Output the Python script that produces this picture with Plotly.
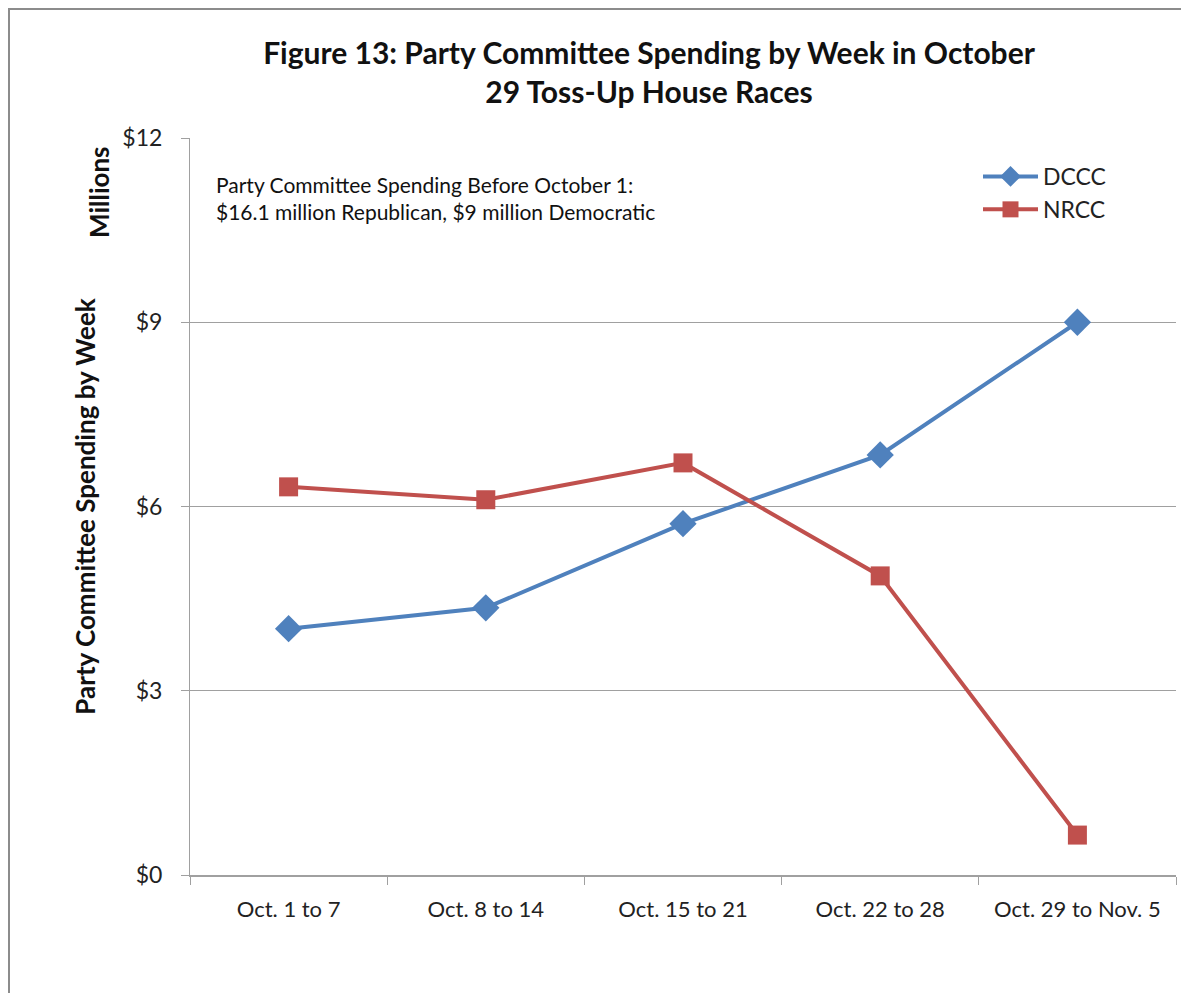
import plotly.graph_objects as go

weeks = ["Oct. 1 to 7", "Oct. 8 to 14", "Oct. 15 to 21", "Oct. 22 to 28", "Oct. 29 to Nov. 5"]
dccc = [4.01, 4.35, 5.72, 6.84, 9.0]
nrcc = [6.32, 6.11, 6.71, 4.87, 0.65]
y_ticks = [0, 3, 6, 9, 12]
y_tick_labels = ["$0", "$3", "$6", "$9", "$12"]

FONT = "Lato, 'Open Sans', sans-serif"

fig = go.Figure()
fig.add_trace(go.Scatter(
    x=weeks, y=dccc, name="DCCC", mode="lines+markers",
    line=dict(color="#4F81BD", width=4),
    marker=dict(symbol="diamond", size=21, color="#4F81BD"),
))
fig.add_trace(go.Scatter(
    x=weeks, y=nrcc, name="NRCC", mode="lines+markers",
    line=dict(color="#C0504D", width=4),
    marker=dict(symbol="square", size=19, color="#C0504D"),
))

# page is offset by 8px (body margin); figure coordinates = reference - 8
OFF = 8
W, H = 1189 - OFF, 993 - OFF
L, R, T, B = 190 - OFF, 13, 138 - OFF, 118
pw = W - L - R
ph = H - T - B

def px_x(x):
    return (x - OFF - L) / pw

def px_y(y):
    return 1 - (y - OFF - T) / ph

fig.update_layout(
    width=W, height=H,
    margin=dict(l=L, r=R, t=T, b=B),
    paper_bgcolor="white", plot_bgcolor="white",
    font=dict(family=FONT, color="#222222", size=21),
    showlegend=True,
    legend=dict(
        x=px_x(978), y=px_y(155), xanchor="left", yanchor="top",
        font=dict(size=23, family=FONT, color="#222222"),
        bgcolor="rgba(0,0,0,0)", itemwidth=55, tracegroupgap=0,
    ),
    title=dict(
        text="<b>Figure 13: Party Committee Spending by Week in October<br>29 Toss-Up House Races</b>",
        xref="container", yref="container",
        x=(649 - OFF) / W, xanchor="center", y=1 - (64 - OFF) / H, yanchor="middle",
        font=dict(size=30, family=FONT, color="#111111"),
    ),
    xaxis=dict(
        type="category", range=[-0.5, 4.5],
        showline=True, linecolor="#A0A0A0", linewidth=2,
        ticks="outside", tickson="boundaries", ticklen=8, tickcolor="#A0A0A0", tickwidth=1,
        showgrid=False, tickfont=dict(size=22, family=FONT, color="#222222"),
        ticklabelstandoff=14,
    ),
    yaxis=dict(
        range=[0, 12], tickvals=y_ticks, ticktext=y_tick_labels,
        showline=True, linecolor="#A0A0A0", linewidth=1,
        ticks="outside", ticklen=8, tickcolor="#A0A0A0",
        showgrid=True, gridcolor="#A0A0A0", gridwidth=1,
        zeroline=False,
        tickfont=dict(size=23, family=FONT, color="#222222"),
        ticklabelstandoff=14,
        title=dict(text="<b>Party Committee Spending by Week</b>",
                   font=dict(size=26, family=FONT, color="#111111"), standoff=19),
    ),
    annotations=[
        dict(text="<b>Millions</b>", xref="paper", yref="paper",
             x=px_x(99), y=px_y(192), xanchor="center", yanchor="middle",
             textangle=-90, showarrow=False,
             font=dict(size=26, family=FONT, color="#111111")),
        dict(text="Party Committee Spending Before October 1:<br>$16.1 million Republican, $9 million Democratic",
             xref="paper", yref="paper", x=px_x(214), y=px_y(170), xanchor="left", yanchor="top",
             align="left", showarrow=False,
             font=dict(size=21, family=FONT, color="#111111")),
    ],
    shapes=[
        dict(type="line", xref="paper", yref="paper",
             x0=px_x(8), x1=px_x(1400), y0=px_y(9), y1=px_y(9),
             line=dict(color="#8C8C8C", width=2)),
        dict(type="line", xref="paper", yref="paper",
             x0=px_x(9), x1=px_x(9), y0=px_y(8), y1=px_y(1200),
             line=dict(color="#8C8C8C", width=2)),
    ],
)

fig.write_html("out.html")
